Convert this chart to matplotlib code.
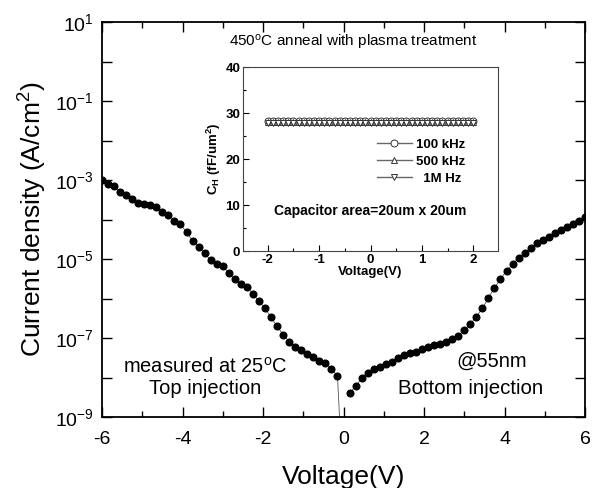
import numpy as np
import matplotlib
matplotlib.use("Agg")
import matplotlib.pyplot as plt
from matplotlib.ticker import FixedLocator, MultipleLocator, FuncFormatter

plt.rcParams['font.family'] = ['Liberation Sans', 'DejaVu Sans']
plt.rcParams['mathtext.default'] = 'regular'

# ---- main J-V data (log10 of current density, A/cm^2) ----
v_left = [-6.00, -5.85, -5.70, -5.55, -5.40, -5.25, -5.10, -4.95, -4.80, -4.65,
          -4.50, -4.35, -4.20, -4.05, -3.90, -3.75, -3.60, -3.45, -3.30, -3.15,
          -3.00, -2.85, -2.70, -2.55, -2.40, -2.25, -2.10, -1.95, -1.80, -1.65,
          -1.50, -1.35, -1.20, -1.05, -0.90, -0.75, -0.60, -0.45, -0.30, -0.15, 0.0]
logj_left = [-3.00, -3.10, -3.14, -3.30, -3.38, -3.49, -3.59, -3.62, -3.63, -3.69,
             -3.82, -3.89, -4.03, -4.12, -4.32, -4.54, -4.69, -4.86, -5.03, -5.13,
             -5.18, -5.35, -5.51, -5.63, -5.70, -5.89, -6.06, -6.25, -6.48, -6.70,
             -6.92, -7.09, -7.22, -7.30, -7.40, -7.49, -7.57, -7.64, -7.78, -7.96, -11.0]
v_right = [0.15, 0.30, 0.45, 0.60, 0.75, 0.90, 1.05, 1.20, 1.35, 1.50,
           1.65, 1.80, 1.95, 2.10, 2.25, 2.40, 2.55, 2.70, 2.85, 3.00,
           3.15, 3.30, 3.45, 3.60, 3.75, 3.90, 4.05, 4.20, 4.35, 4.50,
           4.65, 4.80, 4.95, 5.10, 5.25, 5.40, 5.55, 5.70, 5.85, 6.00]
logj_right = [-8.40, -8.22, -8.02, -7.88, -7.79, -7.73, -7.66, -7.60, -7.51, -7.43,
              -7.39, -7.36, -7.29, -7.23, -7.18, -7.15, -7.09, -7.03, -6.94, -6.80,
              -6.65, -6.46, -6.25, -5.99, -5.73, -5.51, -5.30, -5.13, -4.97, -4.84,
              -4.73, -4.60, -4.52, -4.44, -4.33, -4.27, -4.18, -4.11, -4.03, -3.94]

# ---- inset C-V data ----
v_cv = [-2.0, -1.9, -1.8, -1.7, -1.6, -1.5, -1.4, -1.3, -1.2, -1.1, -1.0,
        -0.9, -0.8, -0.7, -0.6, -0.5, -0.4, -0.3, -0.2, -0.1, 0.0,
        0.1, 0.2, 0.3, 0.4, 0.5, 0.6, 0.7, 0.8, 0.9, 1.0,
        1.1, 1.2, 1.3, 1.4, 1.5, 1.6, 1.7, 1.8, 1.9, 2.0]
c_100k = [28.2] * 41
c_500k = [28.0] * 41
c_1M = [27.8] * 41
cv_labels = ['100 kHz', '500 kHz', '  1M Hz']

fig = plt.figure(figsize=(6.02, 4.88), dpi=100)
ax = fig.add_axes([102/602, 1-417/488, 483/602, 395/488])

j_left = [10**x for x in logj_left]
j_right = [10**x for x in logj_right]
ax.plot(v_left, j_left, '-', color='#555555', lw=0.6, zorder=2)
ax.plot(v_right, j_right, '-', color='#555555', lw=0.6, zorder=2)
ax.plot(v_left[:-1], j_left[:-1], 'o', color='black', ms=4.8, mec='black', zorder=3)
ax.plot(v_right, j_right, 'o', color='black', ms=4.8, mec='black', zorder=3)

ax.set_yscale('log')
ax.set_xlim(-6, 6)
ax.set_ylim(1e-9, 1e1)
ax.xaxis.set_major_locator(MultipleLocator(2))
ax.xaxis.set_minor_locator(MultipleLocator(1))
ax.yaxis.set_major_locator(FixedLocator([10.0**k for k in range(-9, 2, 2)]))
ax.yaxis.set_minor_locator(FixedLocator([10.0**k for k in range(-8, 1, 2)]))
ax.yaxis.set_major_formatter(FuncFormatter(lambda y, p: '10$^{%d}$' % int(round(np.log10(y)))))
ax.yaxis.set_minor_formatter(FuncFormatter(lambda y, p: ''))
ax.xaxis.set_major_formatter(FuncFormatter(lambda x, p: '%d' % x))
ax.tick_params(which='both', direction='in', top=True, right=True, labelsize=14, width=1.0)
ax.tick_params(axis='x', which='major', length=7, pad=10)
ax.tick_params(axis='x', which='minor', length=4)
ax.tick_params(axis='y', which='both', length=7, pad=6)
for s in ax.spines.values():
    s.set_linewidth(1.3)

ax.set_xlabel('Voltage(V)', fontsize=19, labelpad=12)
ax.set_ylabel('Current density (A/cm$^2$)', fontsize=19, labelpad=4)

ax.text(0.52, 0.949, '450$^{o}$C anneal with plasma treatment', transform=ax.transAxes,
        ha='center', va='center', fontsize=11)
ax.text(0.213, 0.127, 'measured at 25$^{o}$C', transform=ax.transAxes,
        ha='center', va='center', fontsize=14.5)
ax.text(0.213, 0.073, 'Top injection', transform=ax.transAxes,
        ha='center', va='center', fontsize=14.5)
ax.text(0.807, 0.140, '@55nm', transform=ax.transAxes,
        ha='center', va='center', fontsize=14.5)
ax.text(0.764, 0.073, 'Bottom injection', transform=ax.transAxes,
        ha='center', va='center', fontsize=14.8)

# ---- inset ----
ins = fig.add_axes([243/602, 1-251/488, 255/602, 184/488])
gray = '#666666'
ins.plot(v_cv, c_100k, '-o', color=gray, mfc='white', mec='#333333', ms=5, mew=0.7, lw=1, label=cv_labels[0])
ins.plot(v_cv, c_500k, '-^', color=gray, mfc='white', mec='#333333', ms=5, mew=0.7, lw=1, label=cv_labels[1])
ins.plot(v_cv, c_1M, '-v', color=gray, mfc='white', mec='#333333', ms=5, mew=0.7, lw=1, label=cv_labels[2])
ins.set_xlim(-2.48, 2.48)
ins.set_ylim(0, 40)
ins.xaxis.set_major_locator(MultipleLocator(1))
ins.xaxis.set_minor_locator(MultipleLocator(0.5))
ins.yaxis.set_major_locator(MultipleLocator(10))
ins.yaxis.set_minor_locator(MultipleLocator(5))
ins.xaxis.set_major_formatter(FuncFormatter(lambda x, p: '%d' % x))
ins.tick_params(which='both', direction='in', labelsize=9.5, width=0.8, pad=2)
ins.tick_params(which='major', length=4)
ins.tick_params(which='minor', length=2)
for lab in ins.get_xticklabels() + ins.get_yticklabels():
    lab.set_fontweight('bold')
for s in ins.spines.values():
    s.set_linewidth(0.8)
    s.set_color('#444444')
ins.set_xlabel('Voltage(V)', fontsize=9.5, fontweight='bold', labelpad=0.5)
ins.set_ylabel('C$_H$ (fF/um$^2$)', fontsize=9.5, fontweight='bold', labelpad=2)
leg = ins.legend(loc='upper left', bbox_to_anchor=(0.48, 0.675), frameon=False,
                 handlelength=2.6, handletextpad=0.3, labelspacing=0.35,
                 prop={'weight': 'bold', 'size': 9.5})
ins.text(0.5, 0.215, 'Capacitor area=20um x 20um', transform=ins.transAxes,
         ha='center', va='center', fontsize=10, fontweight='bold')

fig.savefig('out.png', dpi=100)
